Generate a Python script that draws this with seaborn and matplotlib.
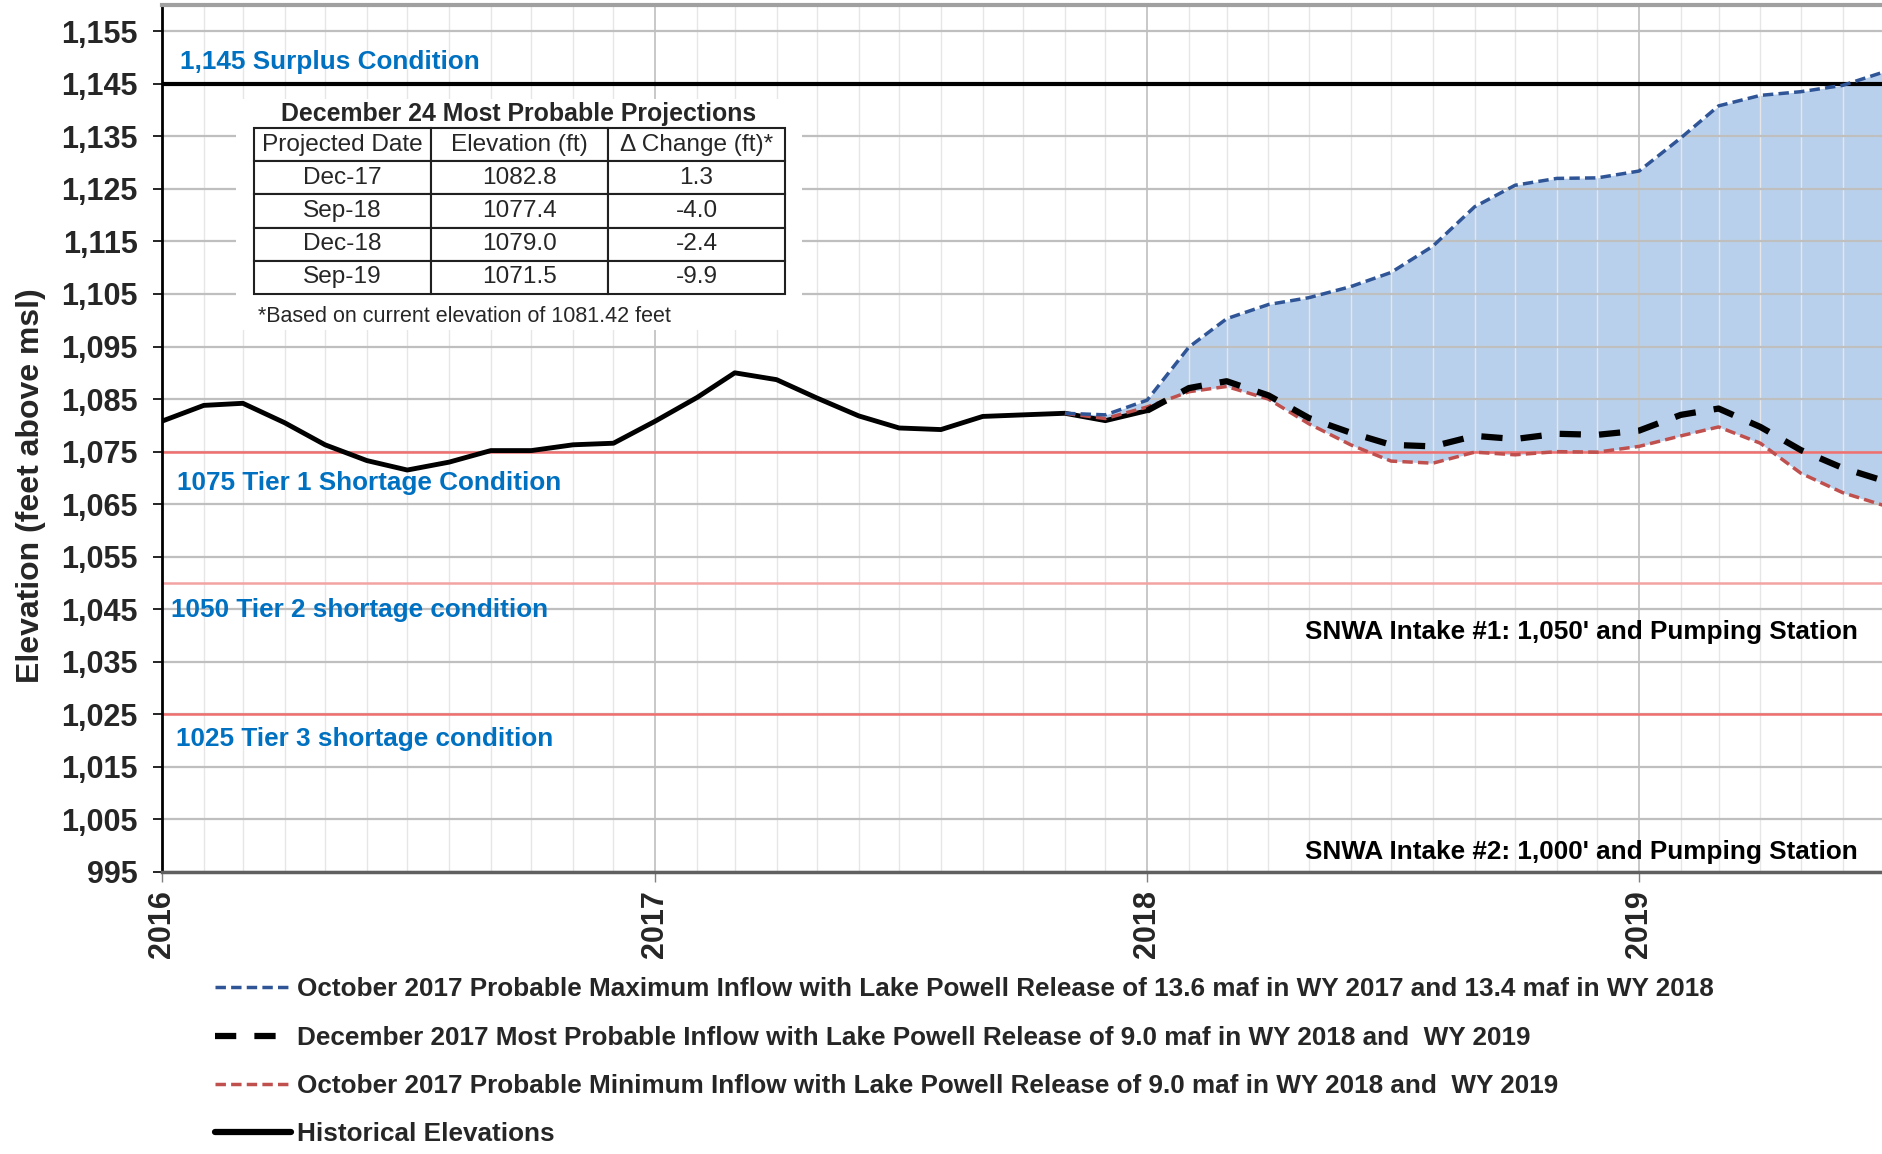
import numpy as np
import pandas as pd
import matplotlib
matplotlib.use("Agg")
import matplotlib.pyplot as plt
import matplotlib.dates as mdates
from matplotlib.lines import Line2D
import seaborn as sns

# ---------------- data ----------------
hist_dates = pd.date_range("2016-01-01", "2018-01-01", freq="MS")
hist_elev = [1080.8, 1083.8, 1084.2, 1080.5, 1076.3, 1073.3, 1071.5, 1073.0,
             1075.2, 1075.2, 1076.3, 1076.6, 1080.8, 1085.3, 1090.0, 1088.7,
             1085.2, 1081.8, 1079.5, 1079.2, 1081.7, 1082.0, 1082.3, 1080.9,
             1082.8]

proj_dates = pd.date_range("2017-11-01", "2019-07-01", freq="MS")
max_elev = [1082.3, 1082.0, 1084.8, 1094.9, 1100.3, 1103.0, 1104.3, 1106.4,
            1109.1, 1114.1, 1121.6, 1125.7, 1127.0, 1127.1, 1128.4, 1134.7,
            1140.8, 1142.8, 1143.5, 1144.7, 1147.2]
min_elev = [1082.3, 1081.3, 1083.5, 1086.4, 1087.4, 1085.0, 1080.3, 1076.3,
            1073.2, 1072.8, 1074.9, 1074.4, 1075.0, 1074.9, 1076.0, 1078.0,
            1079.7, 1076.6, 1070.9, 1067.2, 1064.8]

most_dates = pd.date_range("2018-01-01", "2019-07-01", freq="MS")
most_elev = [1082.8, 1087.1, 1088.4, 1085.7, 1081.4, 1078.6, 1076.3, 1076.0,
             1078.0, 1077.4, 1078.4, 1078.2, 1079.0, 1082.0, 1083.2, 1079.7,
             1075.3, 1071.9, 1069.5]

threshold_levels = [1145, 1075, 1050, 1025]
threshold_labels = ["1,145 Surplus Condition", "1075 Tier 1 Shortage Condition",
                    "1050 Tier 2 shortage condition", "1025 Tier 3 shortage condition"]

table_title = "December 24 Most Probable Projections"
table_cols = ["Projected Date", "Elevation (ft)", "\u0394 Change (ft)*"]
table_dates = ["Dec-17", "Sep-18", "Dec-18", "Sep-19"]
table_elev = ["1082.8", "1077.4", "1079.0", "1071.5"]
table_change = ["1.3", "-4.0", "-2.4", "-9.9"]
table_note = "*Based on current elevation of 1081.42 feet"

intake_labels = ["SNWA Intake #1: 1,050' and Pumping Station",
                 "SNWA Intake #2: 1,000' and Pumping Station"]

legend_labels = [
    "October 2017 Probable Maximum Inflow with Lake Powell Release of 13.6 maf in WY 2017 and 13.4 maf in WY 2018",
    "December 2017 Most Probable Inflow with Lake Powell Release of 9.0 maf in WY 2018 and  WY 2019",
    "October 2017 Probable Minimum Inflow with Lake Powell Release of 9.0 maf in WY 2018 and  WY 2019",
    "Historical Elevations",
]

# ---------------- style ----------------
sns.set_theme(style="white")
plt.rcParams["font.family"] = ["Liberation Sans", "DejaVu Sans"]

BLUE = "#2F5597"
RED = "#C0504D"
FILL = "#B9D0EC"
TXT_BLUE = "#0070C0"
THR_RED = "#F07070"

fig = plt.figure(figsize=(18.83, 11.54), dpi=100)
ax = fig.add_axes([162 / 1883, 1 - 872 / 1154, 1 - 162 / 1883, (872 - 5) / 1154])

hist_df = pd.DataFrame({"date": hist_dates, "elev": hist_elev})
max_df = pd.DataFrame({"date": proj_dates, "elev": max_elev})
min_df = pd.DataFrame({"date": proj_dates, "elev": min_elev})
most_df = pd.DataFrame({"date": most_dates, "elev": most_elev})

ax.fill_between(mdates.date2num(proj_dates), min_elev, max_elev,
                color=FILL, zorder=0.3, linewidth=0)

# threshold lines
ax.axhline(threshold_levels[0], color="black", lw=3.0, zorder=1.6)
ax.axhline(threshold_levels[1], color=THR_RED, lw=1.8, zorder=1.6)
ax.axhline(threshold_levels[2], color="#F4A3A3", lw=1.8, zorder=1.6)
ax.axhline(threshold_levels[3], color=THR_RED, lw=1.8, zorder=1.6)

sns.lineplot(data=hist_df, x="date", y="elev", ax=ax, color="black", lw=3.5,
             zorder=3, legend=False)
sns.lineplot(data=min_df, x="date", y="elev", ax=ax, color=RED, lw=2.5,
             zorder=3.2, legend=False)
ax.lines[-1].set_dashes((3, 1.5))
sns.lineplot(data=max_df, x="date", y="elev", ax=ax, color=BLUE, lw=2.5,
             zorder=3.2, legend=False)
ax.lines[-1].set_dashes((3, 1.5))
sns.lineplot(data=most_df, x="date", y="elev", ax=ax, color="black", lw=4.5,
             zorder=3.4, legend=False)
ax.lines[-1].set_dashes((3.4, 2.9))

# axes
ax.set_xlim(mdates.date2num(pd.Timestamp("2016-01-01")),
            mdates.date2num(pd.Timestamp("2019-07-01")))
ax.set_ylim(995, 1160)
ax.set_yticks(np.arange(995, 1156, 10))
ax.yaxis.set_major_formatter(matplotlib.ticker.FuncFormatter(lambda v, p: f"{int(v):,}"))
ax.xaxis.set_major_locator(mdates.YearLocator())
ax.xaxis.set_major_formatter(mdates.DateFormatter("%Y"))
ax.xaxis.set_minor_locator(mdates.MonthLocator())
ax.set_axisbelow(True)
ax.grid(axis="y", which="major", color="#BFBFBF", lw=1.6)
ax.grid(axis="x", which="major", color="#C8C8C8", lw=1.4)
ax.grid(axis="x", which="minor", color="#E6E6E6", lw=1.0)
ax.tick_params(axis="y", which="major", labelsize=22, length=6.5, width=1.2,
               color="black", left=True, pad=11)
ax.tick_params(axis="x", which="major", labelsize=22, length=7, width=1.0,
               color="#808080", bottom=True, pad=6, labelrotation=90)
ax.tick_params(axis="x", which="minor", bottom=False)
for lab in ax.get_yticklabels() + ax.get_xticklabels():
    lab.set_fontweight("bold")
ax.set_xlabel("")
ax.set_ylabel("Elevation (feet above msl)", fontsize=23, fontweight="bold")
ax.yaxis.set_label_coords(-0.0674, 0.446)

ax.spines["right"].set_visible(False)
ax.spines["left"].set_color("black")
ax.spines["left"].set_linewidth(2)
ax.spines["bottom"].set_color("#606060")
ax.spines["bottom"].set_linewidth(2.5)
ax.spines["top"].set_color("#A0A0A0")
ax.spines["top"].set_linewidth(3)

# threshold text
thr_pos = [(0.0105, 1149.1), (0.009, 1069.1), (0.005, 1044.9), (0.008, 1020.4)]
trans = matplotlib.transforms.blended_transform_factory(ax.transAxes, ax.transData)
for (xp, yp), lab in zip(thr_pos, threshold_labels):
    ax.text(xp, yp, lab, transform=trans, color=TXT_BLUE, fontsize=18.8,
            fontweight="bold", va="center", ha="left", zorder=5)

for yp, lab in zip([1040.7, 998.8], intake_labels):
    ax.text(0.9855, yp, lab, transform=trans, color="black", fontsize=18.8,
            fontweight="bold", va="center", ha="right", zorder=5)

# white box behind table
ax.add_patch(plt.Rectangle((0.043, 0.625), 0.329, 0.267, transform=ax.transAxes,
                           facecolor="white", edgecolor="none", zorder=1.2))
ax.text(0.2069, 0.8745, table_title, transform=ax.transAxes, ha="center",
        va="center", fontsize=17.9, fontweight="bold", zorder=5)
cell_text = [[d, e, c] for d, e, c in zip(table_dates, table_elev, table_change)]
tbl = ax.table(cellText=cell_text, colLabels=table_cols, cellLoc="center",
               bbox=[0.0535, 0.6667, 0.3085, 0.1915], zorder=5)
tbl.auto_set_font_size(False)
tbl.set_fontsize(17.6)
for (r, c), cell in tbl.get_celld().items():
    cell.set_linewidth(1.5)
    cell.set_edgecolor("#202020")
    cell.set_facecolor("white")
ax.text(0.0558, 0.641, table_note, transform=ax.transAxes, ha="left",
        va="center", fontsize=15.5, zorder=5)

# legend
handles = [
    Line2D([], [], color=BLUE, lw=2.5, dashes=(3, 1.5)),
    Line2D([], [], color="black", lw=4.5, dashes=(3.4, 2.9)),
    Line2D([], [], color=RED, lw=2.5, dashes=(3, 1.5)),
    Line2D([], [], color="black", lw=4.5),
]
leg = fig.legend(handles, legend_labels, loc="upper left",
                 bbox_to_anchor=(205 / 1883, 1 - 967 / 1154), frameon=False,
                 prop={"size": 18.8, "weight": "bold"}, handlelength=2.9,
                 handletextpad=0.22, labelspacing=0.93, borderaxespad=0)

fig.savefig("out.png", dpi=100)
